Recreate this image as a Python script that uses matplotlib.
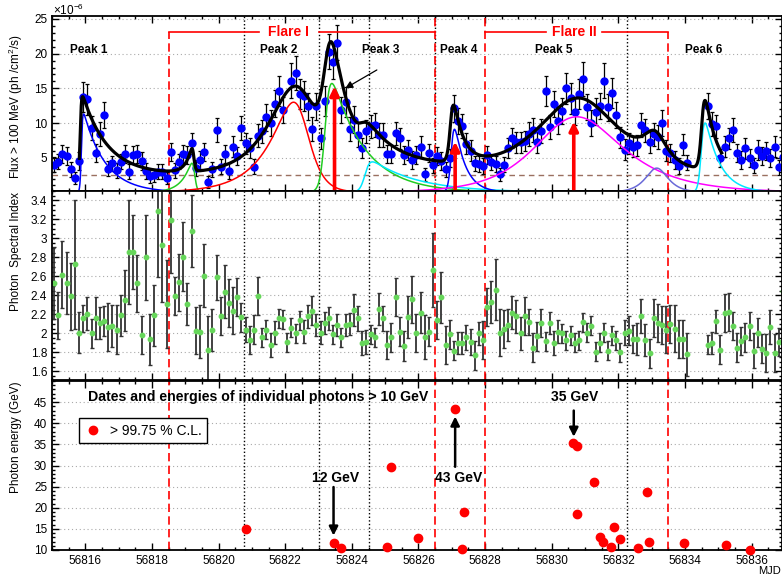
import numpy as np
import matplotlib
matplotlib.use("Agg")
import matplotlib.pyplot as plt
from matplotlib.lines import Line2D
from matplotlib.ticker import MultipleLocator

plt.rcParams['font.family'] = ['Liberation Sans', 'DejaVu Sans']
plt.rcParams['mathtext.default'] = 'regular'

nan = np.nan

# 3-hour bins
bin_start = 56815.0
bin_width = 0.125

flux = [4.0, 4.4, 5.6, 5.2, 3.3, 2.1, 4.5, 13.75, 13.4, 9.3,
        5.7, 8.4, 11.2, 3.4, 4.2, 3.2, 4.4, 5.5, 3.0, 5.4,
        5.5, 4.5, 3.1, 2.3, 2.45, 3.0, 3.0, 2.1, 5.8, 3.2,
        4.4, 5.5, 5.4, 7.1, 3.5, 4.6, 5.8, 1.5, 3.3, 9.0,
        3.7, 5.5, 3.1, 6.6, 5.2, 9.3, 7.1, 6.4, 3.7, 8.2,
        8.8, 10.8, 10.0, 12.8, 14.6, 11.9, nan, 16.1, 17.2, 14.2,
        13.9, 12.4, 9.1, 12.4, 7.8, 13.2, 20.3, 18.85, 21.6, 11.9,
        13.0, 9.1, 10.5, 8.3, 6.4, 8.8, 9.5, 9.7, 8.3, 8.3,
        5.6, 5.6, 8.5, 7.8, 5.4, 6.1, 4.7, 5.4, 6.6, 2.6,
        5.7, 3.9, 5.3, 4.5, 3.3, 4.9, 12.1, 10.3, 9.6, 7.0,
        6.0, 4.2, 4.1, 3.8, 5.4, 4.35, 4.1, 2.6, 4.0, 6.4,
        7.85, 7.25, 7.25, 7.4, 8.4, 9.0, 7.2, 8.85, 14.65, 9.45,
        12.7, 10.3, 11.7, 15.0, 13.55, 11.65, 14.15, 16.35, 12.3, 10.0,
        11.65, 12.5, 16.1, 12.25, 14.3, 11.15, 7.95, 6.15, 7.05, 6.6,
        6.8, 9.7, 8.95, 7.2, 8.35, 8.0, 10.0, 6.0, 5.7, 4.65,
        3.8, 6.9, 4.3, nan, nan, nan, nan, 12.45, 9.9, 9.5,
        4.9, 6.6, 7.8, 9.0, 5.7, 4.6, 6.35, 4.9, 3.9, 6.1,
        5.2, 5.9, 4.9, 6.6, 3.6, 5.1]

flux_err = [1.1, 1.1, 1.3, 1.3, 1.1, 0.9, 1.3, 2.2, 2.2, 1.7,
            1.3, 1.7, 1.9, 1.1, 1.1, 1.1, 1.1, 1.3, 1.1, 1.3,
            1.3, 1.3, 1.1, 0.9, 0.9, 1.1, 1.1, 0.9, 1.3, 1.1,
            1.1, 1.3, 1.3, 1.5, 1.1, 1.3, 1.3, 0.9, 1.1, 1.7,
            1.1, 1.3, 1.1, 1.5, 1.3, 1.7, 1.5, 1.5, 1.1, 1.7,
            1.7, 1.9, 1.9, 1.9, 2.2, 1.9, nan, 2.5, 2.5, 2.2,
            2.2, 1.9, 1.7, 1.9, 1.5, 2.2, 2.5, 2.5, 2.5, 1.9,
            2.2, 1.7, 1.9, 1.7, 1.5, 1.7, 1.7, 1.7, 1.7, 1.7,
            1.3, 1.3, 1.7, 1.5, 1.3, 1.5, 1.3, 1.3, 1.5, 0.9,
            1.3, 1.1, 1.3, 1.3, 1.1, 1.3, 1.9, 1.9, 1.7, 1.5,
            1.5, 1.1, 1.1, 1.1, 1.3, 1.1, 1.1, 0.9, 1.1, 1.5,
            1.5, 1.5, 1.5, 1.5, 1.7, 1.7, 1.5, 1.7, 2.2, 1.7,
            1.9, 1.9, 1.9, 2.2, 2.2, 1.9, 2.2, 2.5, 1.9, 1.9,
            1.9, 1.9, 2.5, 1.9, 2.2, 1.9, 1.5, 1.5, 1.5, 1.5,
            1.5, 1.7, 1.7, 1.5, 1.7, 1.7, 1.9, 1.5, 1.3, 1.3,
            1.1, 1.5, 1.1, nan, nan, nan, nan, 1.9, 1.7, 1.7,
            1.3, 1.5, 1.5, 1.7, 1.3, 1.3, 1.5, 1.3, 1.1, 1.5,
            1.3, 1.3, 1.3, 1.5, 1.1, 1.3]

index = [2.53, 2.19, 2.62, 2.53, 2.39, 2.73, 2.01, 2.16, 2.21, 2.0,
         2.16, 2.11, 2.13, 2.07, 2.08, 2.04, 2.19, 2.35, 2.86, 2.86,
         2.53, 1.98, 2.8, 1.94, 2.19, 3.29, 2.93, 2.31, 3.19, 2.39,
         2.54, 2.81, 2.31, 3.08, 2.03, 2.02, 2.61, 1.83, 2.04, 2.59,
         2.18, 2.44, 2.32, 2.24, 2.38, 2.17, 2.04, 1.93, 2.04, 2.39,
         1.96, 2.04, 1.88, 2.01, 2.16, 2.15, 1.91, 2.06, 2.0, 2.14,
         2.02, 2.18, 2.24, 2.09, 2.01, 2.11, 2.16, 1.99, 2.09, 1.96,
         2.09, 2.1, 2.25, 2.16, 1.9, 1.91, 1.99, 1.96, 2.26, 2.16,
         1.88, 1.96, 2.38, 2.02, 1.87, 2.17, 2.36, 2.01, 2.22, 1.96,
         2.02, 2.67, 2.14, 2.38, 1.88, 1.99, 1.82, 1.9, 1.9, 1.96,
         1.91, 1.77, 2.0, 1.93, 2.28, 2.33, 2.46, 2.01, 2.05, 2.09,
         2.22, 2.18, 2.0, 2.18, 2.12, 1.85, 1.97, 2.11, 1.92, 2.11,
         1.9, 2.02, 2.0, 1.93, 1.98, 1.9, 1.93, 2.12, 2.01, 2.08,
         1.81, 1.9, 2.01, 1.82, 1.98, 1.93, 1.8, 2.01, 2.03, 1.94,
         1.94, 2.18, 1.93, 1.79, 2.16, 2.11, 2.09, 2.04, 2.1, 2.05,
         1.94, 1.94, 1.78, nan, nan, nan, nan, 1.88, 1.9, 2.13,
         1.83, 2.22, 2.23, 2.08, 1.85, 1.92, 1.96, 2.08, 1.82, 2.01,
         1.84, 1.79, 2.07, 1.79, 1.91, 2.45]

index_err = [0.38, 0.25, 0.35, 0.33, 0.35, 0.68, 0.22, 0.14, 0.17, 0.15,
             0.22, 0.17, 0.16, 0.25, 0.22, 0.26, 0.22, 0.32, 0.55, 0.39,
             0.3, 0.2, 0.45, 0.27, 0.32, 0.7, 0.6, 0.46, 0.55, 0.2,
             0.3, 0.36, 0.22, 0.38, 0.25, 0.28, 0.33, 0.35, 0.22, 0.24,
             0.2, 0.28, 0.25, 0.25, 0.2, 0.15, 0.13, 0.15, 0.15, 0.2,
             0.1, 0.1, 0.13, 0.12, 0.1, 0.1, 0.1, 0.1, 0.1, 0.1,
             0.12, 0.12, 0.15, 0.12, 0.12, 0.12, 0.12, 0.1, 0.12, 0.1,
             0.12, 0.12, 0.17, 0.13, 0.13, 0.13, 0.1, 0.1, 0.17, 0.13,
             0.15, 0.15, 0.2, 0.15, 0.16, 0.22, 0.25, 0.2, 0.22, 0.23,
             0.15, 0.39, 0.2, 0.27, 0.2, 0.15, 0.1, 0.12, 0.12, 0.13,
             0.14, 0.15, 0.12, 0.2, 0.2, 0.22, 0.32, 0.25, 0.2, 0.17,
             0.17, 0.17, 0.17, 0.2, 0.14, 0.15, 0.15, 0.15, 0.1, 0.12,
             0.13, 0.12, 0.1, 0.1, 0.1, 0.1, 0.1, 0.1, 0.1, 0.1,
             0.1, 0.1, 0.1, 0.1, 0.1, 0.1, 0.1, 0.13, 0.15, 0.15,
             0.17, 0.18, 0.17, 0.15, 0.2, 0.2, 0.2, 0.25, 0.2, 0.25,
             0.2, 0.2, 0.23, nan, nan, nan, nan, 0.1, 0.12, 0.12,
             0.15, 0.2, 0.2, 0.15, 0.15, 0.15, 0.15, 0.15, 0.18, 0.15,
             0.15, 0.2, 0.18, 0.2, 0.15, 0.25]

# photons > 10 GeV
ph_mjd = [56820.82, 56823.45, 56823.67, 56825.05, 56825.18, 56825.98, 56827.1, 56827.3,
          56827.38, 56830.65, 56830.75, 56830.75, 56831.27, 56831.45, 56831.53, 56831.79,
          56831.87, 56832.05, 56832.58, 56832.85, 56832.92, 56833.97, 56835.23, 56835.95]
ph_energy = [14.9, 11.7, 10.5, 10.6, 29.7, 12.8, 43.4, 10.2,
             19.0, 35.4, 34.6, 18.5, 26.0, 13.0, 11.9, 10.8,
             15.5, 12.6, 10.4, 23.8, 11.9, 11.6, 11.1, 9.9]

# fitted flare components: (peak time, peak flux, rise, decay), colour
components = [
    ((56815.95, 11.3, 0.02, 0.65), '#0000ff'),
    ((56819.2, 4.2, 0.3, 0.04), '#22cc22'),
    ((56822.25, 13.0, 0.8, 0.3), '#ff0000'),
    ((56823.4, 15.7, 0.08, 1.0), '#22cc22'),
    ((56824.62, 4.4, 0.08, 1.4), '#00e8ff'),
    ((56827.08, 9.1, 0.05, 0.33), '#0000ff'),
    ((56830.75, 10.9, 1.05, 1.35), '#ff00ff'),
    ((56833.15, 3.5, 0.3, 0.3), '#6a6ad8'),
    ((56834.6, 10.0, 0.05, 0.45), '#00e8ff'),
]
# total fit (baseline + flares)
baseline = 2.5
total_fit = [(56815.92, 11.3, 0.02, 0.75), (56819.2, 3.3, 0.17, 0.03),
             (56822.3, 12.8, 0.75, 0.6), (56823.4, 14.7, 0.12, 0.6),
             (56824.6, 3.9, 0.12, 1.9), (56827.05, 8.2, 0.05, 0.3),
             (56830.8, 10.95, 1.08, 1.1), (56833.1, 3.7, 0.3, 0.3),
             (56834.6, 10.0, 0.05, 0.35)]
fit_range = (56815.82, 56835.1)

flare_I = (56818.5, 56826.5)
flare_II = (56828.0, 56833.5)
peak_bounds = [56820.75, 56823.0, 56824.5, 56832.25]
peak_labels = ['Peak 1', 'Peak 2', 'Peak 3', 'Peak 4', 'Peak 5', 'Peak 6']
peak_label_x = [56816.1, 56821.8, 56824.87, 56827.2, 56830.05, 56834.56]
arrows_up = [(56823.48, 15.3), (56827.1, 7.3), (56830.66, 10.2)]


def flare(t, tpk, fpk, tr, td):
    xm = np.log(td / tr) / (1 / tr + 1 / td)
    t0 = tpk - xm
    a = np.clip((t0 - t) / tr, -700, 700)
    b = np.clip((t - t0) / td, -700, 700)
    g = 2 / (np.exp(a) + np.exp(b))
    gmax = 2 / (np.exp(-xm / tr) + np.exp(xm / td))
    return fpk * g / gmax


t_bins = bin_start + bin_width * (np.arange(len(flux)) + 0.5)
flux = np.array(flux)
flux_err = np.array(flux_err)
index = np.array(index)
index_err = np.array(index_err)

W, H = 782, 577
fig = plt.figure(figsize=(W / 100, H / 100), dpi=100)


def fx(px):
    return px / W


def fy(py):
    return 1 - py / H


xl = (56815.0, 56836.91)
ax1 = fig.add_axes([fx(52), fy(191), fx(730), (191 - 16) / H])
ax2 = fig.add_axes([fx(52), fy(380), fx(730), (380 - 191) / H])
ax3 = fig.add_axes([fx(52), fy(550), fx(730), (550 - 381) / H])

for ax in (ax1, ax2, ax3):
    ax.set_xlim(*xl)
    ax.xaxis.set_major_locator(MultipleLocator(2))
    ax.xaxis.set_minor_locator(MultipleLocator(0.5))
    ax.tick_params(which='both', direction='in', top=True, right=True,
                   labelsize=8.5, width=1)
    ax.tick_params(which='major', length=5)
    ax.tick_params(which='minor', length=2.5)
    ax.yaxis.grid(True, linestyle=(0, (1, 2.5)), color='#aaaaaa', lw=0.8)
    ax.set_axisbelow(True)
    for s in ax.spines.values():
        s.set_linewidth(1.3)
ax1.tick_params(labelbottom=False)
ax2.tick_params(labelbottom=False)

red_dash = dict(color='#ff0000', lw=1.2, linestyle=(0, (5, 2.6)), zorder=1.5)
dot = dict(color='black', lw=1.0, linestyle=(0, (1, 1.6)), zorder=1.5)

# ---- top panel: flux
ax1.set_ylim(0.2, 25.43)
ax1.yaxis.set_minor_locator(MultipleLocator(1))
ax1.set_yticks([5, 10, 15, 20, 25])

ax1.errorbar(t_bins, flux, yerr=flux_err, fmt='o', ms=5, color='#0000ff',
             mec='#0000ff', ecolor='black', elinewidth=0.9, capsize=1.5,
             capthick=0.9, zorder=2)

tt = np.linspace(xl[0], xl[1], 5000)
for pars, col in components:
    ax1.plot(tt, flare(tt, *pars), color=col, lw=1.1, zorder=3)

tf = np.linspace(fit_range[0], fit_range[1], 4000)
tot = baseline + sum(flare(tf, *p) for p in total_fit)
ax1.plot(tf, tot, color='black', lw=2.3, zorder=4)
ax1.axhline(baseline, color='#9a7060', lw=1.0, linestyle=(0, (4, 3)), zorder=1.6)

flare_y = 23.1
for xb in peak_bounds:
    ax1.axvline(xb, **dot)
ax1.axvline(flare_I[1], **dot)
for xb in (flare_I[0], flare_II[1]):
    ax1.plot([xb, xb], [0.2, flare_y], **red_dash)
for xb in (flare_I[1], flare_II[0]):
    ax1.axvline(xb, **red_dash)

for (a, b), name, xc, gap in ((flare_I, 'Flare I', 56822.1, 0.9),
                              (flare_II, 'Flare II', 56830.67, 0.83)):
    ax1.plot([a, xc - gap], [flare_y, flare_y], color='red', lw=1.2)
    ax1.plot([xc + gap, b], [flare_y, flare_y], color='red', lw=1.2)
    ax1.text(xc, flare_y, name, color='red', fontsize=10, fontweight='bold',
             ha='center', va='center')

for lab, xp in zip(peak_labels, peak_label_x):
    ax1.text(xp, 20.6, lab, fontsize=8.5, fontweight='bold', ha='center', va='center')

for xa, ya in arrows_up:
    ax1.annotate('', xy=(xa, ya), xytext=(xa, 0.2),
                 arrowprops=dict(arrowstyle='-|>', color='red', lw=2.6,
                                 mutation_scale=13, shrinkA=0, shrinkB=0),
                 zorder=5)
ax1.annotate('', xy=(56823.8, 15.0), xytext=(56824.75, 17.65),
             arrowprops=dict(arrowstyle='-|>', color='black', lw=0.9,
                             mutation_scale=11, shrinkA=0, shrinkB=0), zorder=5)

# ---- middle panel: spectral index
ax2.set_ylim(1.51, 3.50)
ax2.set_yticks(np.round(np.arange(1.6, 3.41, 0.2), 1))
ax2.set_yticklabels(['1.6', '1.8', '2', '2.2', '2.4', '2.6', '2.8', '3', '3.2', '3.4'])
ax2.yaxis.set_minor_locator(MultipleLocator(0.05))
ax2.errorbar(t_bins, index, yerr=index_err, fmt='o', ms=3.2, color='#66d65a',
             mec='#66d65a', ecolor='#333333', elinewidth=1.3, capsize=1.5,
             capthick=1.0, zorder=2)
for xb in peak_bounds:
    ax2.axvline(xb, **dot)
for xb in (flare_I[0], flare_I[1], flare_II[0], flare_II[1]):
    ax2.axvline(xb, **red_dash)

# ---- bottom panel: photons
ax3.set_ylim(10, 50)
ax3.set_yticks([10, 15, 20, 25, 30, 35, 40, 45])
ax3.yaxis.set_minor_locator(MultipleLocator(1))
ax3.plot(ph_mjd, ph_energy, 'o', color='#ff0000', ms=6, mec='#ff0000',
         zorder=3, clip_on=False)
for xb in peak_bounds:
    ax3.axvline(xb, **dot)
for xb in (flare_I[0], flare_I[1], flare_II[0], flare_II[1]):
    ax3.axvline(xb, **red_dash)

ax3.text(56821.2, 46.3, 'Dates and energies of individual photons > 10 GeV',
         fontsize=10.2, fontweight='bold', ha='center', va='center')
gev_notes = [('12 GeV', 56823.5, 27.1, 56823.45, 24.9, 13.4),
             ('43 GeV', 56827.2, 27.1, 56827.1, 29.7, 41.6),
             ('35 GeV', 56830.7, 46.3, 56830.66, 43.0, 36.8)]
for txt, xt, yt, xa, y0, y1 in gev_notes:
    ax3.text(xt, yt, txt, fontsize=10, fontweight='bold', ha='center', va='center')
    ax3.annotate('', xy=(xa, y1), xytext=(xa, y0),
                 arrowprops=dict(arrowstyle='-|>', color='black', lw=1.8,
                                 mutation_scale=13, shrinkA=0, shrinkB=0))

leg = ax3.legend([Line2D([], [], marker='o', color='#ff0000', ls='', ms=6)],
                 ['> 99.75 % C.L.'], loc='upper left',
                 bbox_to_anchor=(fx(79), fy(418)), bbox_transform=fig.transFigure,
                 fontsize=10, frameon=True, fancybox=False, edgecolor='black',
                 framealpha=1, borderpad=0.4, handletextpad=0.6, handlelength=1.2,
                 borderaxespad=0)
leg.get_frame().set_linewidth(1.0)

# ---- labels
fig.text(fx(16), fy(107), 'Flux > 100 MeV (ph /cm$^2$/s)', rotation=90,
         fontsize=8.5, ha='center', va='center')
fig.text(fx(16), fy(192), 'Photon  Spectral Index', rotation=90,
         fontsize=8.5, ha='center', va='top')
fig.text(fx(16), fy(381), 'Photon energy (GeV)', rotation=90,
         fontsize=8.5, ha='center', va='top')
fig.text(fx(53), fy(10), '$\\times$10$^{-6}$', fontsize=8.5, ha='left', va='center')
fig.text(fx(781), fy(576), 'MJD', fontsize=8, ha='right', va='bottom')

fig.savefig('out.png', dpi=100)
